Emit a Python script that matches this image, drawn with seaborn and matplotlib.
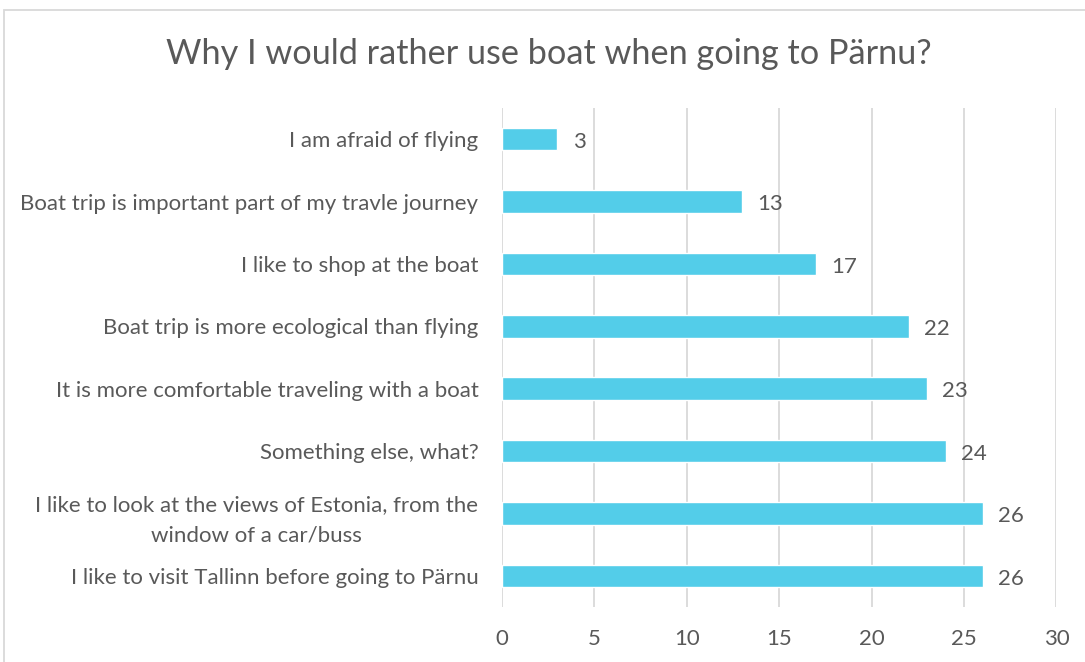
import matplotlib
matplotlib.use("Agg")
import matplotlib.pyplot as plt
import matplotlib.patches as mpatches
import seaborn as sns
import pandas as pd

categories = [
    "I am afraid of flying",
    "Boat trip is important part of my travle journey",
    "I like to shop at the boat",
    "Boat trip is more ecological than flying",
    "It is more comfortable traveling with a boat",
    "Something else, what?",
    "I like to look at the views of Estonia, from the\nwindow of a car/buss",
    "I like to visit Tallinn before going to Pärnu",
]
counts = [3, 13, 17, 22, 23, 24, 26, 26]
x_ticks = [0, 5, 10, 15, 20, 25, 30]
title = "Why I would rather use boat when going to Pärnu?"

df = pd.DataFrame({"reason": categories, "count": counts})

sns.set_theme(style="white")
plt.rcParams["font.family"] = ["Lato", "DejaVu Sans"]

text_color = "#595959"
bar_color = "#53CDE9"
grid_color = "#D9D9D9"

fig = plt.figure(figsize=(10.85, 6.62), dpi=100)
ax = fig.add_axes([0.4627, 0.0831, 0.5110, 0.7538])

sns.barplot(data=df, x="count", y="reason", color=bar_color, width=0.36,
            saturation=1, ax=ax, zorder=3)

ax.set_xlim(0, 30)
ax.set_xticks(x_ticks)
ax.set_xticklabels([str(t) for t in x_ticks])
ax.xaxis.grid(True, color=grid_color, linewidth=1.3, zorder=0)
ax.yaxis.grid(False)
for s in ax.spines.values():
    s.set_visible(False)
ax.set_xlabel("")
ax.set_ylabel("")
ax.tick_params(axis="x", length=0, pad=16, labelsize=16, labelcolor=text_color)
ax.tick_params(axis="y", length=0, pad=17, labelsize=16, labelcolor=text_color)
for lbl in ax.get_yticklabels():
    lbl.set_multialignment("center")
    lbl.set_linespacing(1.6)

for i, v in enumerate(counts):
    ax.annotate(str(v), xy=(v, i), xytext=(11, -2), textcoords="offset points",
                ha="left", va="center", fontsize=16, color=text_color)

fig.text(0.506, 0.919, title, ha="center", va="center", fontsize=24.7,
         color=text_color)

# light frame around the chart area
fig.patches.append(mpatches.Rectangle((4 / 1085, -0.05), 1.2, 1.05 - 10 / 662,
                                      transform=fig.transFigure, fill=False,
                                      edgecolor="#D9D9D9", linewidth=1.3))

fig.savefig("out.png", dpi=100, facecolor="white")
